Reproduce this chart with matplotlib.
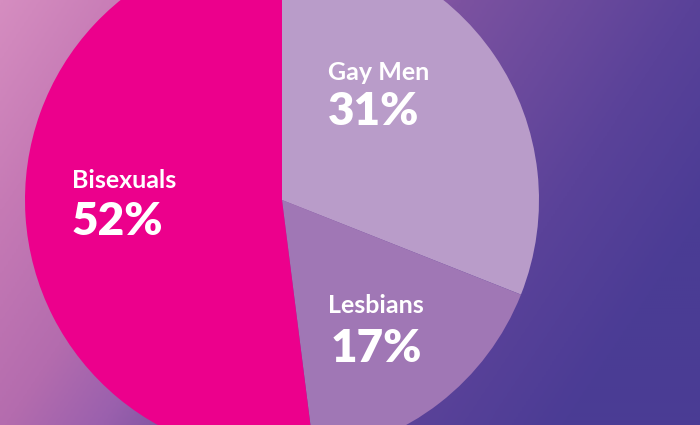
import numpy as np
import matplotlib
matplotlib.use("Agg")
import matplotlib.pyplot as plt
from matplotlib.colors import LinearSegmentedColormap

labels = ["Gay Men", "Lesbians", "Bisexuals"]
shares = [31, 17, 52]
colors = ["#b99cc9", "#a077b5", "#ec008c"]

# background gradient stops (position along diagonal, colour)
bg_stops = [0.0, 0.14, 0.29, 0.39, 0.47, 0.71, 0.86, 1.0]
bg_colors = ["#d58dc0", "#c67ab5", "#b46cae", "#9a60ad", "#7c52a0",
             "#5a4299", "#4b3c95", "#4a3c94"]

W, H = 700, 425
fig = plt.figure(figsize=(7, 4.25), dpi=100)
ax = fig.add_axes([0, 0, 1, 1])

# diagonal gradient behind the pie
xx, yy = np.meshgrid(np.linspace(0, W, 350), np.linspace(0, H, 212))
t = (xx / W + 0.4 * (H - yy) / H) / 1.4
cmap = LinearSegmentedColormap.from_list("bg", list(zip(bg_stops, bg_colors)))
ax.imshow(t, cmap=cmap, vmin=0, vmax=1, extent=(0, W, 0, H), origin="lower",
          interpolation="bilinear", zorder=0)

ax.pie(shares, colors=colors, startangle=90, counterclock=False,
       center=(282, 225), radius=257, frame=True,
       wedgeprops=dict(linewidth=0), normalize=True)
ax.set_xlim(0, W)
ax.set_ylim(0, H)
ax.set_aspect("equal")
ax.axis("off")

fam = ["Lato", "DejaVu Sans"]
txt = dict(color="white", family=fam, zorder=5)
# name / percentage positions (pixels from top-left)
pos = {"Gay Men": (328, 80, 125, "left"),
       "Lesbians": (376, 313, 362, "center"),
       "Bisexuals": (72, 188, 235, "left")}
for lab, s in zip(labels, shares):
    x, y1, y2, ha = pos[lab]
    ax.text(x, H - y1, lab, fontsize=18, fontweight="bold", ha=ha,
            va="baseline", **txt)
    ax.text(x, H - y2, f"{s}%", fontsize=33, fontweight="heavy", ha=ha,
            va="baseline", **txt)

fig.savefig("out.png", dpi=100)
